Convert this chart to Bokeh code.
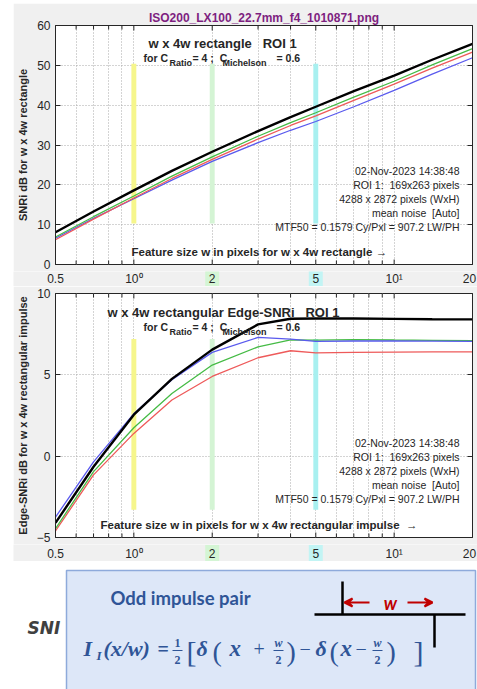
from bokeh.plotting import figure
from bokeh.layouts import column
from bokeh.models import (FixedTicker, LinearAxis, Label, Range1d,
                          CustomJSTickFormatter, Arrow, VeeHead)
from bokeh.core.properties import value
from bokeh.embed import file_html
from bokeh.resources import INLINE

# ---------------- data ----------------
file_title = "ISO200_LX100_22.7mm_f4_1010871.png"
feature_w = [0.5, 0.7, 1, 1.4, 2, 3, 4, 5, 7, 10, 14, 20]

snri_black = [8.1, 13.3, 18.6, 23.5, 28.3, 33.5, 37.0, 39.6, 43.5, 47.4, 51.4, 55.4]
snri_green = [6.9, 12.0, 17.2, 22.2, 27.0, 32.2, 35.6, 38.1, 42.0, 46.0, 50.1, 54.2]
snri_red = [6.2, 11.4, 16.7, 21.6, 26.4, 31.5, 34.9, 37.3, 41.2, 45.3, 49.3, 53.3]
snri_blue = [6.6, 11.6, 16.5, 21.2, 25.9, 30.6, 33.7, 35.9, 39.6, 43.7, 47.8, 51.9]

edge_black = [-4.1, -0.65, 2.55, 4.75, 6.55, 8.1, 8.45, 8.46, 8.46, 8.44, 8.42, 8.41]
edge_blue = [-3.75, -0.35, 2.62, 4.7, 6.38, 7.3, 7.2, 7.06, 7.08, 7.08, 7.07, 7.06]
edge_green = [-4.45, -0.95, 1.75, 3.85, 5.6, 6.72, 7.15, 7.13, 7.17, 7.14, 7.12, 7.1]
edge_red = [-4.6, -1.15, 1.4, 3.45, 4.9, 6.05, 6.48, 6.35, 6.38, 6.4, 6.41, 6.41]

x_ticks = [0.5, 1, 2, 5, 10, 20]
x_tick_labels = ["0.5", "10\u2070", "2", "5", "10\u00b9", "20"]
x_minor_ticks = [0.6, 0.7, 0.8, 0.9, 3, 4, 6, 7, 8, 9]
highlight_ticks = [2, 5]
y1_ticks = [0, 10, 20, 30, 40, 50, 60]
y2_ticks = [-5, 0, 5, 10]
band_w = [1, 2, 5]
band1_range = [10.3, 50.4]
band2_range = [-3.3, 7.2]

info_lines = ["02-Nov-2023 14:38:48",
              "ROI 1:\u00a0 169x263 pixels",
              "4288 x 2872 pixels (WxH)",
              "mean noise\u00a0 [Auto]",
              "MTF50 = 0.1579 Cy/Pxl = 907.2 LW/PH"]

# ---------------- styles ----------------
FONT = "Liberation Sans"
AX = "#262626"
BG = "#f0f0f0"
GRID = "#a8a8a8"
COL_BLACK, COL_GREEN, COL_RED, COL_BLUE = "#000000", "#45bb45", "#ee5a5a", "#5a5aee"
band_colors = ["#f6f68c", "#d4f4d4", "#a8f0f0"]
tick_bg = ["#d4f5d4", "#c2f4f4"]
tick_label_shift = [0, 0, 0, 0, 0, -3]
X0, X1 = 0.5, 20
BAND_F = 1.022
FR_L, FR_R = 55, 472            # page x of the plot frames


def xd(px):
    return X0 * (X1 / X0) ** ((px - FR_L) / (FR_R - FR_L))


def make_yd(top_px, bot_px, y0, y1):
    return lambda py: y1 - (py - top_px) * (y1 - y0) / (bot_px - top_px)


def make_plot(frame_h, yr, yticks, mtop, mbot, ylabel, margin_top, title):
    p = figure(width=464, height=frame_h + mtop + mbot, x_axis_type="log",
               x_axis_location=None, title=title,
               x_range=Range1d(X0, X1), y_range=Range1d(*yr),
               output_backend="svg", toolbar_location=None,
               min_border_left=42, min_border_right=5,
               min_border_top=mtop, min_border_bottom=mbot, frame_align=False,
               background_fill_color="white", border_fill_color=BG,
               outline_line_color=AX, margin=(margin_top, 0, 0, 13))
    xt = FixedTicker(ticks=x_ticks, minor_ticks=x_minor_ticks)
    yt = FixedTicker(ticks=yticks)
    ay = p.yaxis[0]
    ay.ticker = yt
    ay.axis_label = ylabel
    ay.major_tick_in = 5
    ay.major_tick_out = 0
    ay.minor_tick_in = 0
    ay.minor_tick_out = 0
    ay.axis_line_color = AX
    ay.major_tick_line_color = AX
    ay.major_label_text_font = FONT
    ay.major_label_text_font_size = "12px"
    ay.major_label_text_color = AX
    ay.major_label_standoff = 5
    ay.axis_label_text_font = FONT
    ay.axis_label_text_font_size = "11px"
    ay.axis_label_text_font_style = "bold"
    ay.axis_label_text_color = AX
    ay.axis_label_standoff = 5
    right = LinearAxis(ticker=yt, formatter=CustomJSTickFormatter(code="return ''"),
                       major_label_text_font_size="0px", major_label_standoff=0,
                       major_tick_in=5, major_tick_out=0, minor_tick_in=0, minor_tick_out=0,
                       axis_line_color=AX, major_tick_line_color=AX)
    p.add_layout(right, "right")
    p.xgrid.ticker = xt
    p.ygrid.ticker = yt
    p.xgrid.grid_line_color = GRID
    p.xgrid.grid_line_dash = "1 2"
    p.xgrid.minor_grid_line_color = GRID
    p.xgrid.minor_grid_line_dash = "1 2"
    p.ygrid.grid_line_color = GRID
    p.ygrid.grid_line_dash = "1 2"
    # inward x ticks on bottom and top edges of the box
    ppu = frame_h / (yr[1] - yr[0])
    xs = x_ticks + x_minor_ticks
    lens = [5] * len(x_ticks) + [4] * len(x_minor_ticks)
    p.segment(x0=xs, y0=[yr[0]] * len(xs), x1=xs, y1=[yr[0] + l / ppu for l in lens],
              line_color=AX, line_width=1)
    p.segment(x0=xs, y0=[yr[1]] * len(xs), x1=xs, y1=[yr[1] - l / ppu for l in lens],
              line_color=AX, line_width=1)
    return p


def lab(p, x, y, text, size, style="normal", color=AX, align="left", font=FONT):
    p.add_layout(Label(x=x, y=y, text=text, text_font=font, text_font_size=f"{size}px",
                       text_font_style=style, text_color=color, text_align=align,
                       text_baseline="middle"))


def subtitle(p, yd, ymain, ysub):
    lab(p, xd(143), yd(ymain), "for C", 10.5, "bold")
    lab(p, xd(169), yd(ysub), "Ratio", 9, "bold")
    lab(p, xd(192), yd(ymain), "= 4 ;\u00a0 C", 10.5, "bold")
    lab(p, xd(222), yd(ysub), "Michelson", 9, "bold")
    lab(p, xd(276), yd(ymain), "= 0.6", 10.5, "bold")


def common(p, yd, band_range, series, info_y):
    for bx, bc in zip(band_w, band_colors):
        p.quad(left=[bx / BAND_F], right=[bx * BAND_F], bottom=[band_range[0]],
               top=[band_range[1]], fill_color=bc, line_color=None)
    for ys, c, lw in series:
        p.line(feature_w, ys, line_color=c, line_width=lw)
    for i, s in enumerate(info_lines):
        lab(p, xd(459), yd(info_y + 14 * i), s, 10.5, align="right")


def make_strip(top_px, bot_px, label_px, box_h):
    s = figure(width=464, height=bot_px - top_px, x_axis_type="log",
               x_axis_location=None, y_axis_location=None, title=None,
               x_range=Range1d(xd(13), xd(477)), y_range=Range1d(bot_px, top_px),
               min_border_left=0, min_border_right=0, min_border_top=0, min_border_bottom=0,
               frame_align=False, margin=(0, 0, 0, 13),
               background_fill_color=BG, border_fill_color=BG, outline_line_color=None,
               toolbar_location=None, output_backend="svg")
    s.grid.visible = False
    s.rect(x=highlight_ticks, y=[label_px] * len(highlight_ticks), width=14, height=box_h,
           width_units="screen", height_units="screen", fill_color=tick_bg, line_color=None)
    s.text(x=x_ticks, y=[label_px] * len(x_ticks), text=x_tick_labels,
           x_offset=tick_label_shift,
           text_font=value(FONT), text_font_size="12px", text_color=AX,
           text_align="center", text_baseline="middle")
    return s


# ---------------- plot 1 ----------------
yd1 = make_yd(25, 264, 0, 60)
p1 = make_plot(239, (0, 60), y1_ticks, 22, 7, "SNRi dB for w x 4w rectangle", 3, file_title)
p1.title.align = "center"
p1.title.text_font = FONT
p1.title.text_font_size = "12px"
p1.title.text_font_style = "bold"
p1.title.text_color = "#7e1f80"
p1.title.standoff = 2
common(p1, yd1, band1_range,
       [(snri_blue, COL_BLUE, 1.3), (snri_red, COL_RED, 1.3),
        (snri_green, COL_GREEN, 1.3), (snri_black, COL_BLACK, 2.4)], 170)
lab(p1, xd(148), yd1(43), "w x 4w rectangle\u00a0\u00a0 ROI 1", 13, "bold")
subtitle(p1, yd1, 57, 62)
lab(p1, xd(131), yd1(251), "Feature size w in pixels for w x 4w rectangle \u2192", 11.5, "bold")

s1 = make_strip(271, 286, 278, 15)

# ---------------- plot 2 ----------------
yd2 = make_yd(293, 537, -5, 10)
p2 = make_plot(244, (-5, 10), y2_ticks, 7, 7,
               "Edge-SNRi dB for w x 4w rectangular impulse", 0, None)
common(p2, yd2, band2_range,
       [(edge_red, COL_RED, 1.3), (edge_green, COL_GREEN, 1.3),
        (edge_blue, COL_BLUE, 1.3), (edge_black, COL_BLACK, 2.4)], 442)
lab(p2, xd(107), yd2(312), "w x 4w rectangular Edge-SNRi\u00a0\u00a0 ROI 1", 13, "bold")
subtitle(p2, yd2, 326, 331)
lab(p2, xd(100), yd2(524), "Feature size w in pixels for w x 4w rectangular impulse\u00a0 \u2192", 11.5, "bold")

s2 = make_strip(544, 561, 553, 17)

# ---------------- bottom panel (slide excerpt) ----------------
BLUE_T = "#2f5597"
RED_T = "#c00000"
SERIF = "Liberation Serif"
p3 = figure(width=477, height=128, x_range=Range1d(0, 477), y_range=Range1d(689, 561),
            x_axis_location=None, y_axis_location=None, title=None,
            min_border_left=0, min_border_right=0, min_border_top=0, min_border_bottom=0,
            frame_align=False, outline_line_color=None,
            toolbar_location=None, output_backend="svg",
            background_fill_color="white", border_fill_color="white")
p3.grid.visible = False


def t3(x, y, s, size, style="bold italic", color=BLUE_T, align="left", font=SERIF):
    p3.text(x=[x], y=[y], text=[s], text_font=value(font), text_font_size=f"{size}px",
            text_font_style=style, text_color=color, text_align=align,
            text_baseline="middle")


t3(27, 627, "SNI", 17, color="#404040", font="DejaVu Sans")
p3.quad(left=[66], right=[475], top=[570], bottom=[700], fill_color="#dde7f8",
        line_color="#8eaadb", line_width=1.5)
t3(110, 597, "Odd impulse pair", 18.5, style="bold", font="Lato")

# formula
t3(83, 648, "I", 22)
t3(96, 655, "I", 13)
t3(103, 648, "(x/w)", 22)
t3(157, 648, "=", 20, style="bold")
t3(177, 642, "1", 12, style="bold", align="center")
t3(177, 659, "2", 12, style="bold", align="center")
t3(186, 651, "[", 30, style="normal")
t3(196, 648, "\u03b4", 22)
t3(212, 651, "(", 28, style="normal")
t3(229, 648, "x", 23)
t3(253, 648, "+", 20, style="normal")
t3(278, 642, "w", 12, align="center")
t3(278, 659, "2", 12, style="bold", align="center")
t3(286, 651, ")", 28, style="normal")
t3(299, 648, "\u2212", 20, style="normal")
t3(315, 648, "\u03b4", 22)
t3(329, 651, "(", 28, style="normal")
t3(340, 648, "x", 23)
t3(355, 648, "\u2212", 20, style="normal")
t3(377, 642, "w", 12, align="center")
t3(377, 659, "2", 12, style="bold", align="center")
t3(386, 651, ")", 28, style="normal")
t3(413, 651, "]", 30, style="normal")
p3.segment(x0=[172, 273, 372], y0=[650, 650, 650], x1=[182, 283, 382], y1=[650, 650, 650],
           line_color=BLUE_T, line_width=1)

# diagram
p3.segment(x0=[314, 342, 434], y0=[614, 581, 614], x1=[465, 342, 434], y1=[614, 614, 647],
           line_color="black", line_width=2.5)
p3.add_layout(Arrow(end=VeeHead(size=8, line_color=RED_T, fill_color=RED_T, line_width=2),
                    x_start=369, y_start=602, x_end=344, y_end=602,
                    line_color=RED_T, line_width=2))
p3.add_layout(Arrow(end=VeeHead(size=8, line_color=RED_T, fill_color=RED_T, line_width=2),
                    x_start=407, y_start=602, x_end=432, y_end=602,
                    line_color=RED_T, line_width=2))
t3(390, 602, "w", 18, color=RED_T, font="Lato", align="center")

layout = column(p1, s1, p2, s2, p3, spacing=0)
open("out.html", "w").write(file_html(layout, INLINE))
